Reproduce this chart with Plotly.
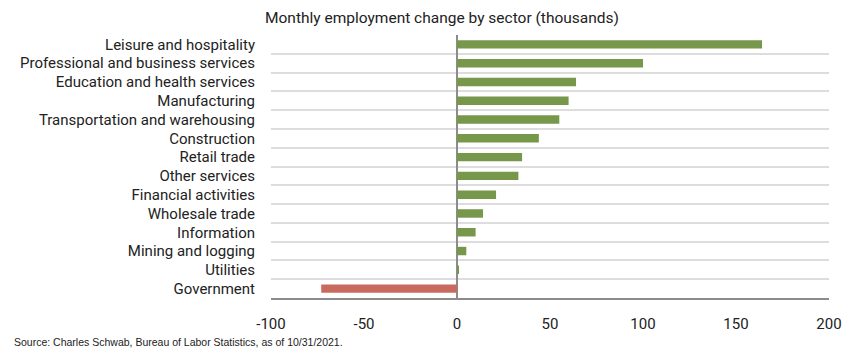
import plotly.graph_objects as go

sectors = [
    "Leisure and hospitality",
    "Professional and business services",
    "Education and health services",
    "Manufacturing",
    "Transportation and warehousing",
    "Construction",
    "Retail trade",
    "Other services",
    "Financial activities",
    "Wholesale trade",
    "Information",
    "Mining and logging",
    "Utilities",
    "Government",
]
change = [164, 100, 64, 60, 55, 44, 35, 33, 21, 14, 10, 5, 0.6, -73]

x_tickvals = [-100, -50, 0, 50, 100, 150, 200]
x_ticktext = ["-100", "-50", "0", "50", "100", "150", "200"]

GREEN = "#77974B"
RED = "#C96A5F"
colors = [GREEN if v >= 0 else RED for v in change]

# page body has an 8px default margin, so the figure is drawn at (8, 8)
OFF = 8
W, H = 860 - OFF, 355 - OFF
ML, MR, MT, MB = 268 - OFF, 31, 35 - OFF, 57
PW = W - ML - MR
PH = H - MT - MB

fig = go.Figure(
    go.Bar(
        x=change,
        y=sectors,
        orientation="h",
        marker=dict(color=colors, line=dict(width=0)),
        hoverinfo="x+y",
    )
)

fig.update_layout(
    width=W,
    height=H,
    margin=dict(l=ML, r=MR, t=MT, b=MB, pad=0),
    paper_bgcolor="white",
    plot_bgcolor="white",
    bargap=0.55,
    showlegend=False,
    font=dict(family="Roboto, 'Open Sans', Arial, sans-serif", size=15, color="#222222"),
    title=dict(
        text="Monthly employment change by sector (thousands)",
        xref="container",
        yref="container",
        x=(265 - OFF) / W,
        xanchor="left",
        y=1 - (18 - OFF) / H,
        yanchor="middle",
        font=dict(size=15.5, color="#222222"),
    ),
    xaxis=dict(
        range=[-100, 200],
        tickvals=x_tickvals,
        ticktext=x_ticktext,
        showgrid=False,
        zeroline=True,
        zerolinecolor="#8C8C8C",
        zerolinewidth=2,
        showline=True,
        linecolor="#8C8C8C",
        linewidth=2,
        ticks="",
        ticklabelstandoff=11,
        tickfont=dict(size=15, color="#222222"),
        fixedrange=True,
    ),
    yaxis=dict(
        autorange="reversed",
        type="category",
        tickson="boundaries",
        showgrid=True,
        gridcolor="#DDDDDD",
        gridwidth=1.5,
        ticks="",
        ticklabelstandoff=15,
        tickfont=dict(size=15, color="#222222"),
        showline=False,
        fixedrange=True,
    ),
    annotations=[
        dict(
            text="Source: Charles Schwab, Bureau of Labor Statistics, as of 10/31/2021.",
            xref="paper",
            yref="paper",
            x=-ML / PW,
            y=(MT + PH - (342 - OFF)) / PH,
            xanchor="left",
            yanchor="middle",
            showarrow=False,
            font=dict(family="'Liberation Sans', Arial, sans-serif", size=10.5, color="#222222"),
        )
    ],
)

fig.write_html("out.html")
